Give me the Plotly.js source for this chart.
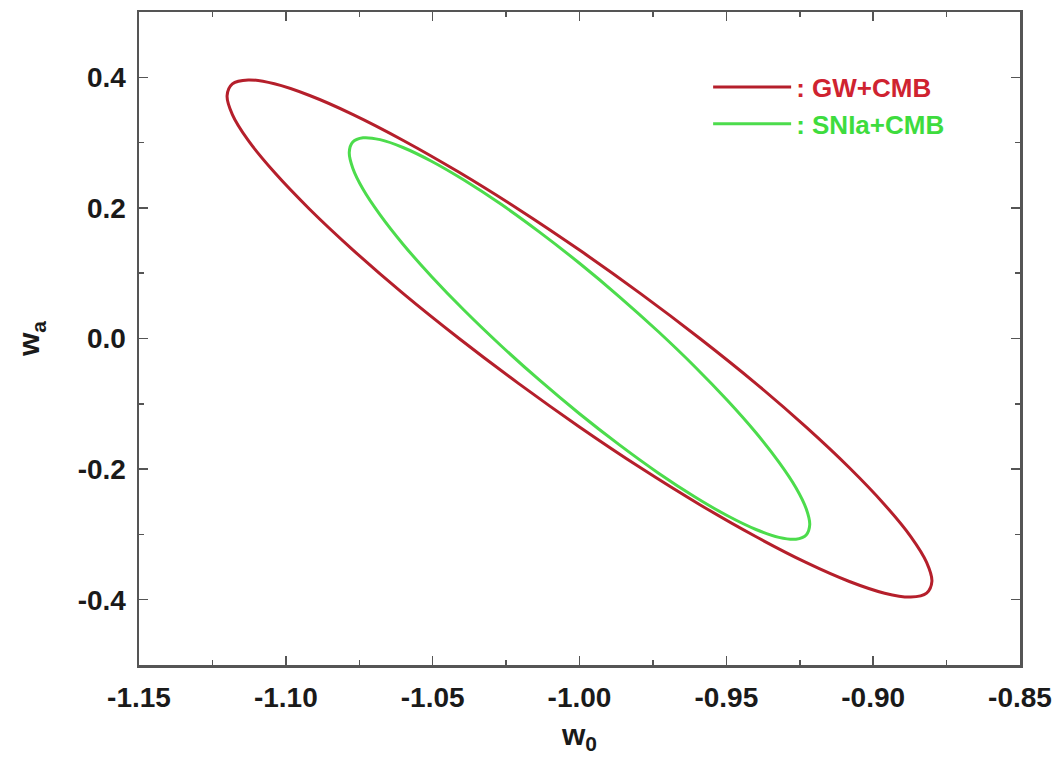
<!DOCTYPE html>
<html>
<head>
<meta charset="utf-8">
<script src="https://cdn.plot.ly/plotly-3.0.1.min.js"></script>
<style>html,body{margin:0;padding:0;background:#fff;}#chart{width:1059px;height:767px;}</style>
</head>
<body>
<div id="chart"></div>
<script>
// GW+CMB 1-sigma contour (w0, wa)
var gwW0 = [-0.8800,-0.8818,-0.8872,-0.8961,-0.9081,-0.9229,-0.9400,-0.9590,-0.9792,-1.0000,
            -1.0208,-1.0410,-1.0600,-1.0771,-1.0919,-1.1039,-1.1128,-1.1182,-1.1200,-1.1182,
            -1.1128,-1.1039,-1.0919,-1.0771,-1.0600,-1.0410,-1.0208,-1.0000,-0.9792,-0.9590,
            -0.9400,-0.9229,-0.9081,-0.8961,-0.8872,-0.8818,-0.8800];
var gwWa = [-0.3721,-0.3429,-0.3033,-0.2545,-0.1980,-0.1354,-0.0687,0.0000,0.0687,0.1354,
            0.1980,0.2545,0.3033,0.3429,0.3721,0.3900,0.3960,0.3900,0.3721,0.3429,
            0.3033,0.2545,0.1980,0.1354,0.0687,0.0000,-0.0687,-0.1354,-0.1980,-0.2545,
            -0.3033,-0.3429,-0.3721,-0.3900,-0.3960,-0.3900,-0.3721];

// SNIa+CMB 1-sigma contour (w0, wa)
var snW0 = [-0.9216,-0.9228,-0.9263,-0.9321,-0.9399,-0.9496,-0.9608,-0.9732,-0.9864,-1.0000,
            -1.0136,-1.0268,-1.0392,-1.0504,-1.0601,-1.0679,-1.0737,-1.0772,-1.0784,-1.0772,
            -1.0737,-1.0679,-1.0601,-1.0504,-1.0392,-1.0268,-1.0136,-1.0000,-0.9864,-0.9732,
            -0.9608,-0.9496,-0.9399,-0.9321,-0.9263,-0.9228,-0.9216];
var snWa = [-0.2851,-0.2608,-0.2285,-0.1893,-0.1444,-0.0950,-0.0428,0.0107,0.0639,0.1152,
            0.1629,0.2058,0.2423,0.2715,0.2925,0.3045,0.3073,0.3008,0.2851,0.2608,
            0.2285,0.1893,0.1444,0.0950,0.0428,-0.0107,-0.0639,-0.1152,-0.1629,-0.2058,
            -0.2423,-0.2715,-0.2925,-0.3045,-0.3073,-0.3008,-0.2851];

var seriesNames = ['GW+CMB', 'SNIa+CMB'];

var xTickVals = [-1.15, -1.10, -1.05, -1.00, -0.95, -0.90, -0.85];
var xTickText = ['-1.15', '-1.10', '-1.05', '-1.00', '-0.95', '-0.90', '-0.85'];
var yTickVals = [-0.4, -0.2, 0.0, 0.2, 0.4];
var yTickText = ['-0.4', '-0.2', '0.0', '0.2', '0.4'];

var redLine = '#b51f2b', redText = '#cf2330';
var greenLine = '#4cdc4c', greenText = '#3edc3e';

var traces = [
  {x: gwW0, y: gwWa, type: 'scatter', mode: 'lines',
   line: {color: redLine, width: 3, shape: 'spline', smoothing: 1},
   name: '<span style="color:' + redText + '">: ' + seriesNames[0] + '</span>'},
  {x: snW0, y: snWa, type: 'scatter', mode: 'lines',
   line: {color: greenLine, width: 3, shape: 'spline', smoothing: 1},
   name: '<span style="color:' + greenText + '">: ' + seriesNames[1] + '</span>'}
];

var axisCommon = {
  showline: true, linecolor: '#555', linewidth: 2.5, mirror: 'ticks',
  ticks: 'inside', ticklen: 9, tickwidth: 1.5, tickcolor: '#555',
  showgrid: false, zeroline: false,
  tickfont: {family: 'Liberation Sans, Arial, sans-serif', size: 28, color: '#1a1a1a', weight: 'bold'}
};

var layout = {
  width: 1059, height: 767,
  margin: {l: 139, r: 39, t: 12, b: 102},
  paper_bgcolor: '#fff', plot_bgcolor: '#fff',
  showlegend: true,
  legend: {
    x: 0.646, y: 0.921, xanchor: 'left', yanchor: 'top',
    bgcolor: 'rgba(0,0,0,0)', borderwidth: 0,
    font: {family: 'Liberation Sans, Arial, sans-serif', size: 26, weight: 'bold'},
    tracegroupgap: 0, itemwidth: 78
  },
  xaxis: Object.assign({}, axisCommon, {
    range: [-1.15, -0.85], tickmode: 'array', tickvals: xTickVals, ticktext: xTickText,
    ticklabelstandoff: 6,
    minor: {dtick: 0.025, ticks: 'inside', ticklen: 5, tickwidth: 1.5, tickcolor: '#555'},
    title: {text: 'w<sub>0</sub>', standoff: 12,
            font: {family: 'Liberation Sans, Arial, sans-serif', size: 30, color: '#1a1a1a', weight: 'bold'}}
  }),
  yaxis: Object.assign({}, axisCommon, {
    range: [-0.5, 0.5], tickmode: 'array', tickvals: yTickVals, ticktext: yTickText,
    ticklabelstandoff: 5,
    minor: {dtick: 0.1, ticks: 'inside', ticklen: 5, tickwidth: 1.5, tickcolor: '#555'},
    title: {text: 'w<sub>a</sub>', standoff: 29,
            font: {family: 'Liberation Sans, Arial, sans-serif', size: 30, color: '#1a1a1a', weight: 'bold'}}
  })
};

Plotly.newPlot('chart', traces, layout, {displayModeBar: false, staticPlot: true});
</script>
</body>
</html>
